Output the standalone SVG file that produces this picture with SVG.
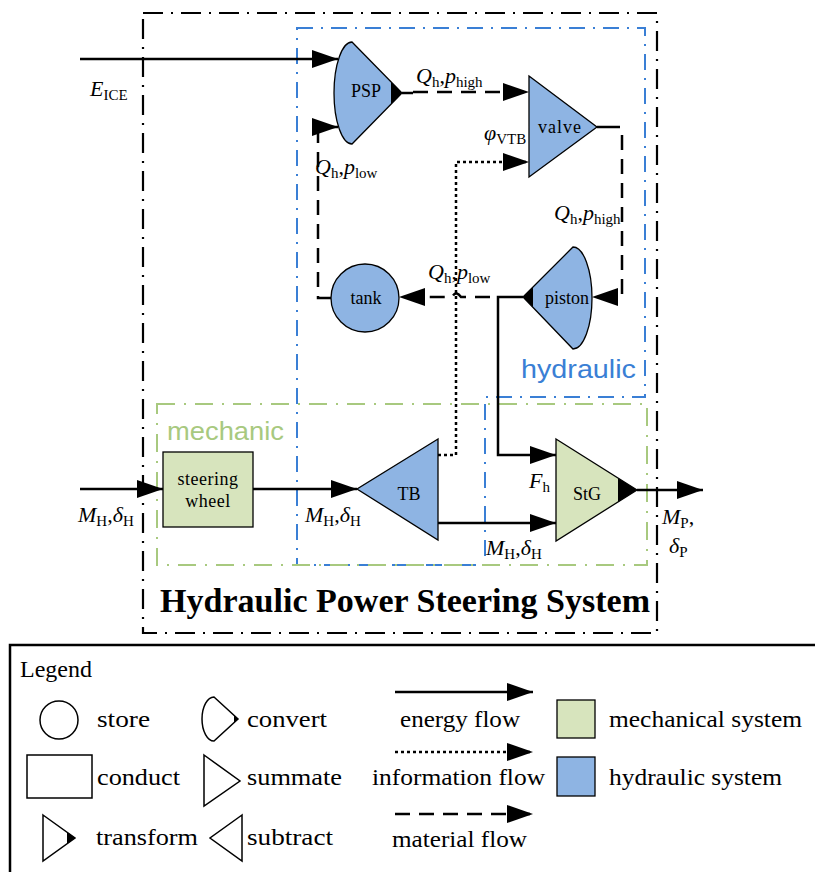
<svg xmlns="http://www.w3.org/2000/svg" width="815" height="872" viewBox="0 0 815 872">
<style>
.t{font-family:"Liberation Serif","Times New Roman",serif;fill:#000}
.n{font-size:18px}
.m{font-size:22px}
.i{font-style:italic}
.s{font-size:15px}
.lg{font-size:24px}
.ttl{font-size:33px;font-weight:bold}
.hb{fill:#8eb4e3;stroke:#000;stroke-width:1.3}
.mg{fill:#d7e4bd;stroke:#000;stroke-width:1.3}
.e{fill:none;stroke:#000;stroke-width:2.5}
.d{fill:none;stroke:#000;stroke-width:2.5;stroke-dasharray:3 3}
.ma{fill:none;stroke:#000;stroke-width:2.5;stroke-dasharray:15 9}
.ol{fill:none;stroke:#000;stroke-width:1.5}
</style>
<defs>
<marker id="ah" markerUnits="userSpaceOnUse" markerWidth="26" markerHeight="18" viewBox="0 0 26 18" refX="26" refY="9" orient="auto">
<path d="M0,0 L26,9 L0,18 Z" fill="#000"/>
</marker>
</defs>
<rect width="815" height="872" fill="#fff"/>

<g id="system-boundary">
<rect x="143" y="13" width="514" height="620" fill="none" stroke="#000" stroke-width="2.2" stroke-dasharray="20 8 2 8"/>
<text class="t ttl" x="160" y="612" textLength="490" lengthAdjust="spacingAndGlyphs">Hydraulic Power Steering System</text>
</g>

<g id="hydraulic-domain">
<path d="M297,28 H645 V397 H485 V565 H297 Z" fill="none" stroke="#3a7fd5" stroke-width="2" stroke-dasharray="16 8 2 8"/>
<text x="521" y="378" font-family="Liberation Sans, Arial, sans-serif" font-size="26" fill="#3a7fd5" textLength="115" lengthAdjust="spacingAndGlyphs">hydraulic</text>
</g>

<g id="mechanic-domain">
<rect x="157" y="404" width="490" height="161" fill="none" stroke="#a8c97f" stroke-width="2" stroke-dasharray="18 9 2 9"/>
<text x="167" y="440" font-family="Liberation Sans, Arial, sans-serif" font-size="26" fill="#a8c97f" textLength="117" lengthAdjust="spacingAndGlyphs">mechanic</text>
</g>

<g id="connectors">
<path class="e" d="M80,59 H338" marker-end="url(#ah)"/>
<path class="e" d="M402,93 H413"/>
<path class="ma" d="M413,92 H529" marker-end="url(#ah)"/>
<path class="e" d="M597,127 H620"/>
<path class="ma" d="M622,135 V297 H592" marker-end="url(#ah)"/>
<path class="ma" d="M490,297 H461 Q456,290 452,297 H399" marker-end="url(#ah)"/>
<path class="ma" d="M331,298 H318 V127 H338" marker-end="url(#ah)"/>
<path class="d" d="M438,455 H456 V162 H529" marker-end="url(#ah)"/>
<path class="e" d="M523,297 H498 V455 H556" marker-end="url(#ah)"/>
<path class="e" d="M80,489 H163" marker-end="url(#ah)"/>
<path class="e" d="M253,489 H357" marker-end="url(#ah)"/>
<path class="e" d="M438,523 H556" marker-end="url(#ah)"/>
<path class="e" d="M637,490 H703" marker-end="url(#ah)"/>

<text class="t m" x="90" y="96"><tspan class="i">E</tspan><tspan class="s" dy="4">ICE</tspan></text>
<text class="t m" x="416" y="83"><tspan class="i">Q</tspan><tspan class="s" dy="4">h</tspan><tspan dy="-4">,</tspan><tspan class="i">p</tspan><tspan class="s" dy="4">high</tspan></text>
<text class="t m" x="315" y="174"><tspan class="i">Q</tspan><tspan class="s" dy="4">h</tspan><tspan dy="-4">,</tspan><tspan class="i">p</tspan><tspan class="s" dy="4">low</tspan></text>
<text class="t m" x="484" y="140"><tspan class="i">φ</tspan><tspan class="s" dy="4">VTB</tspan></text>
<text class="t m" x="554" y="220"><tspan class="i">Q</tspan><tspan class="s" dy="4">h</tspan><tspan dy="-4">,</tspan><tspan class="i">p</tspan><tspan class="s" dy="4">high</tspan></text>
<text class="t m" x="428" y="279"><tspan class="i">Q</tspan><tspan class="s" dy="4">h</tspan><tspan dy="-4">,</tspan><tspan class="i">p</tspan><tspan class="s" dy="4">low</tspan></text>
<text class="t m" x="78" y="522"><tspan class="i">M</tspan><tspan class="s" dy="4">H</tspan><tspan dy="-4">,</tspan><tspan class="i">δ</tspan><tspan class="s" dy="4">H</tspan></text>
<text class="t m" x="305" y="522"><tspan class="i">M</tspan><tspan class="s" dy="4">H</tspan><tspan dy="-4">,</tspan><tspan class="i">δ</tspan><tspan class="s" dy="4">H</tspan></text>
<text class="t m" x="486" y="555"><tspan class="i">M</tspan><tspan class="s" dy="4">H</tspan><tspan dy="-4">,</tspan><tspan class="i">δ</tspan><tspan class="s" dy="4">H</tspan></text>
<text class="t m" x="529" y="488"><tspan class="i">F</tspan><tspan class="s" dy="4">h</tspan></text>
<text class="t m" x="662" y="524"><tspan class="i">M</tspan><tspan class="s" dy="4">P</tspan><tspan dy="-4">,</tspan></text>
<text class="t m" x="669" y="553"><tspan class="i">δ</tspan><tspan class="s" dy="4">P</tspan></text>
</g>

<g id="PSP">
<path class="hb" d="M352,42 L402,93 L352,144 A18,51 0 0 1 352,42 Z"/>
<path d="M391,82 L402,93 L391,104 Z" fill="#000"/>
<text class="t n" x="366" y="97" text-anchor="middle">PSP</text>
</g>

<g id="valve">
<path class="hb" d="M529,76 L597,127 L529,177 Z"/>
<text class="t n" x="560" y="133" text-anchor="middle" letter-spacing="1">valve</text>
</g>

<g id="tank">
<circle class="hb" cx="365" cy="298" r="34"/>
<text class="t n" x="366" y="304" text-anchor="middle">tank</text>
</g>

<g id="piston">
<path class="hb" d="M523,297 L573,247 A19,51 0 0 1 573,349 Z"/>
<path d="M523,297 L533,287 L533,307 Z" fill="#000"/>
<text class="t n" x="567" y="304" text-anchor="middle">piston</text>
</g>

<g id="steering-wheel">
<rect class="mg" x="163" y="452" width="90" height="75"/>
<text class="t n" x="208" y="485" text-anchor="middle" letter-spacing="0.5">steering</text>
<text class="t n" x="208" y="507" text-anchor="middle" letter-spacing="0.5">wheel</text>
</g>

<g id="TB">
<path class="hb" d="M438,439 L357,489 L438,540 Z"/>
<text class="t n" x="409" y="500" text-anchor="middle">TB</text>
</g>

<g id="StG">
<path class="mg" d="M556,439 L637,490 L556,541 Z"/>
<path d="M618,478 L637,490 L618,502 Z" fill="#000"/>
<text class="t n" x="587" y="500" text-anchor="middle">StG</text>
</g>

<g id="legend">
<rect x="10" y="645" width="820" height="240" fill="none" stroke="#000" stroke-width="2.5"/>
<text class="t lg" x="20" y="677" textLength="72" lengthAdjust="spacingAndGlyphs">Legend</text>
<circle class="ol" cx="59" cy="720" r="19"/>
<text class="t lg" x="97" y="727" textLength="53" lengthAdjust="spacingAndGlyphs">store</text>
<path class="ol" d="M214,697 L238,719 L214,741 A12,22 0 0 1 214,697 Z"/>
<path d="M234,715 L238,719 L234,723 Z" fill="#000"/>
<text class="t lg" x="247" y="727" textLength="80" lengthAdjust="spacingAndGlyphs">convert</text>
<rect class="ol" x="27" y="755" width="65" height="43"/>
<text class="t lg" x="97" y="785" textLength="83" lengthAdjust="spacingAndGlyphs">conduct</text>
<path class="ol" d="M204,755 L240,781 L204,806 Z"/>
<text class="t lg" x="247" y="785" textLength="95" lengthAdjust="spacingAndGlyphs">summate</text>
<path class="ol" d="M43,815 L75,838 L43,861 Z"/>
<path d="M67,832 L75,838 L67,844 Z" fill="#000"/>
<text class="t lg" x="96" y="845" textLength="102" lengthAdjust="spacingAndGlyphs">transform</text>
<path class="ol" d="M242,815 L210,838 L242,861 Z"/>
<text class="t lg" x="247" y="845" textLength="86" lengthAdjust="spacingAndGlyphs">subtract</text>
<path class="e" d="M395,692 H533" marker-end="url(#ah)"/>
<text class="t lg" x="400" y="727" textLength="120" lengthAdjust="spacingAndGlyphs">energy flow</text>
<path class="d" d="M395,752 H533" marker-end="url(#ah)"/>
<text class="t lg" x="372" y="785" textLength="173" lengthAdjust="spacingAndGlyphs">information flow</text>
<path class="ma" d="M395,814 H533" marker-end="url(#ah)"/>
<text class="t lg" x="392" y="847" textLength="135" lengthAdjust="spacingAndGlyphs">material flow</text>
<rect class="mg" x="557" y="700" width="38" height="38"/>
<text class="t lg" x="609" y="727" textLength="193" lengthAdjust="spacingAndGlyphs">mechanical system</text>
<rect class="hb" x="557" y="757" width="38" height="39"/>
<text class="t lg" x="609" y="785" textLength="173" lengthAdjust="spacingAndGlyphs">hydraulic system</text>
</g>
</svg>
